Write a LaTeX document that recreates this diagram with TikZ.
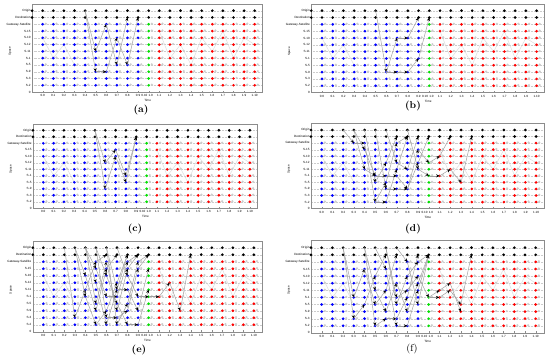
\documentclass[tikz,border=0pt]{standalone}
\usepackage{fontspec}
\newfontfamily\plotfont{Liberation Sans}
\usetikzlibrary{arrows.meta}
\definecolor{satblue}{RGB}{0,0,255}
\definecolor{satgreen}{RGB}{0,225,0}
\definecolor{satred}{RGB}{255,0,0}
\definecolor{routegray}{gray}{0.62}
\definecolor{ghostgray}{gray}{0.80}
\definecolor{gridgray}{gray}{0.80}
\tikzset{
  ticklab/.style={font=\plotfont\fontsize{2.6}{3}\selectfont,inner sep=0.4pt},
  panlab/.style={font=\fontsize{8.5}{10}\selectfont},
  rowgrid/.style={gridgray,line width=0.25pt,densely dotted},
  axisbox/.style={draw=black!45,line width=0.3pt},
  faint/.style={draw=black!14,line width=0.4pt},
  route/.style={draw=routegray,line width=0.4pt,-{Stealth[black,length=3pt,width=2.6pt]}},
}

\begin{document}
\begin{tikzpicture}[x=0.03cm,y=-0.03cm]
  \useasboundingbox (0,0) rectangle (550,364);
  % the six panels: name / first column x / column step / top row y / row step
  \foreach \pn/\cx/\cs/\oy/\rs in {a/42.7/10.6/10.7/6.78, b/322/10.73/10.7/6.82,
      c/43.3/10.33/130.3/6.5, d/321.7/10.72/130/6.55,
      e/43.3/10.53/247.7/7.0, f/321.7/10.7/247.7/7.1}{
    \pgfmathsetmacro\xl{\cx-\cs}
    \pgfmathsetmacro\xr{\cx+20.75*\cs}
    \pgfmathsetmacro\yt{\oy-\rs}
    \pgfmathsetmacro\yb{\oy+12*\rs}
    \foreach \r in {1,...,12}
      \draw[rowgrid] (\xl,{\oy+(12-\r)*\rs}) -- (\xr,{\oy+(12-\r)*\rs});
    \draw[axisbox] (\xl,\yt) rectangle (\xr,\yb);
    \foreach \c in {0,...,20}
      \foreach \r in {1,...,12}
        \coordinate (\pn-\c-\r) at ({\cx+\c*\cs},{\oy+(12-\r)*\rs});
    % faint background edges
    \foreach \c/\r/\cc/\rr in {0/8/1/5, 1/5/2/7, 2/7/3/4, 11/9/12/5, 12/5/13/7, 13/7/14/4,
        14/4/15/8, 15/8/16/6, 16/6/17/9, 17/9/18/5, 18/5/19/8, 19/8/20/7}
      \draw[faint] (\pn-\c-\r) -- (\pn-\cc-\rr);
    % satellites
    \foreach \c in {0,...,20}{
      \ifnum\c<10 \def\sc{satblue}\else\ifnum\c=10 \def\sc{satgreen}\else\def\sc{satred}\fi\fi
      \foreach \r in {1,...,10}{
        \fill[ghostgray] ([xshift=2.7pt,yshift=0.5pt]\pn-\c-\r) circle (1.05pt);
        \fill[\sc] (\pn-\c-\r) circle (1.25pt);
      }
      \fill[black] (\pn-\c-11) circle (1.25pt);
      \fill[black] (\pn-\c-12) circle (1.25pt);
    }
    \fill[black] (\xl,\oy) circle (1.25pt);
    \fill[black] (\xl,{\oy+\rs}) circle (1.25pt);
    % axes text
    \foreach \c in {0,...,20}
      \draw[axisbox] ({\cx+\c*\cs},\yb) -- ({\cx+\c*\cs},{\yb-1.5});
    \foreach \c in {0,...,9}
      \node[ticklab,anchor=north] at ({\cx+\c*\cs},{\yb+1.8}) {0.\c};
    \node[ticklab,anchor=north] at ({\cx+9.6*\cs},{\yb+1.8}) {0.10};
    \node[ticklab,anchor=north] at ({\cx+10.2*\cs},{\yb+1.8}) {1.0};
    \foreach \c in {1,...,10}
      \node[ticklab,anchor=north] at ({\cx+(10+\c)*\cs},{\yb+1.8}) {1.\c};
    \foreach \r/\t in {12/Origin, 11/Destination, 10/Gateway-Satellite, 9/S-15, 8/S-10,
        7/S-12, 6/S-11, 5/S-1, 4/S-5, 3/S-9, 2/S-3, 1/S-2, 0/0}
      \node[ticklab,anchor=east] at ({\xl-0.8},{\oy+(12-\r)*\rs}) {\t};
    \node[ticklab] at ({\cx+9.9*\cs},{\yb+8.6}) {Time};
    \node[ticklab,rotate=90] at ({\xl-22},{\oy+6*\rs}) {Space};
  }
  % routes (a)
  \foreach \c/\r/\cc/\rr in {4/12/5/6, 5/6/6/10, 6/10/7/4, 7/4/8/11,
      4/12/5/3, 5/3/6/3, 6/3/7/8, 7/8/8/4, 8/4/9/11}
    \draw[route] (a-\c-\r) -- (a-\cc-\rr);
  % routes (b)
  \foreach \c/\r/\cc/\rr in {5/12/6/3, 6/3/7/3, 7/3/8/3, 8/3/9/5, 9/5/10/11,
      6/3/7/8, 7/8/8/8, 8/8/9/11}
    \draw[route] (b-\c-\r) -- (b-\cc-\rr);
  % routes (c)
  \foreach \c/\r/\cc/\rr in {5/12/6/3, 6/3/7/8, 7/8/8/4, 8/4/9/11,
      5/12/6/7, 6/7/7/9, 7/9/8/5, 8/5/9/11}
    \draw[route] (c-\c-\r) -- (c-\cc-\rr);
  % routes (d)
  \foreach \c/\r/\cc/\rr in {2/12/3/10, 3/10/4/10, 4/10/5/1, 5/1/6/1, 6/1/7/6, 7/6/8/11,
      3/12/4/9, 4/9/5/5, 5/5/6/5, 6/5/7/5, 7/5/8/3, 8/3/9/7, 9/7/10/11,
      4/12/5/4, 5/4/6/7, 6/7/7/11, 3/12/4/6, 4/6/5/5,
      5/12/6/3, 6/3/7/3, 7/3/8/3, 8/3/9/9, 9/9/10/7, 10/7/11/8, 11/8/12/11,
      6/12/7/7, 7/7/8/6, 8/6/9/11, 5/1/6/4, 6/4/7/10, 7/10/8/11,
      8/12/9/6, 9/6/10/5, 10/5/11/5, 11/5/12/6, 12/6/13/4, 13/4/14/11}
    \draw[route] (d-\c-\r) -- (d-\cc-\rr);
  % routes (e)
  \foreach \c/\r/\cc/\rr in {2/12/3/2, 3/2/4/6, 4/6/5/10, 5/10/6/11,
      3/12/4/8, 4/8/5/3, 5/3/6/9, 6/9/7/11,
      4/12/5/7, 5/7/6/1, 6/1/7/6, 7/6/8/11,
      4/12/5/9, 5/9/6/5, 6/5/7/5, 7/5/8/10, 8/10/9/11,
      5/12/6/2, 6/2/7/2, 7/2/8/3, 8/3/9/9, 9/9/10/11,
      5/12/6/8, 6/8/7/4, 7/4/8/1, 8/1/9/1, 9/1/10/6,
      6/12/7/6, 7/6/8/6, 8/6/9/3, 9/3/10/9,
      4/12/5/4, 5/4/6/10, 6/10/7/3, 7/3/8/9, 8/9/9/11,
      3/12/4/5, 4/5/5/1, 5/1/6/3, 6/3/7/7, 7/7/8/11,
      6/12/7/1, 7/1/8/4, 8/4/9/10, 9/10/10/11,
      7/12/8/8, 8/8/9/5, 9/5/10/5, 10/5/11/5, 11/5/12/7, 12/7/13/3, 13/3/14/11}
    \draw[route] (e-\c-\r) -- (e-\cc-\rr);
  % routes (f)
  \foreach \c/\r/\cc/\rr in {2/12/3/2, 3/2/4/4, 4/4/5/8, 5/8/6/11,
      2/12/3/5, 3/5/4/9, 4/9/5/4, 5/4/6/6, 6/6/7/11,
      4/12/5/1, 5/1/6/2, 6/2/7/2, 7/2/8/5, 8/5/9/11,
      4/12/5/6, 5/6/6/3, 6/3/7/7, 7/7/8/3, 8/3/9/7, 9/7/10/11,
      5/12/6/9, 6/9/7/1, 7/1/8/1, 8/1/9/6, 9/6/10/11,
      6/12/7/4, 7/4/8/8, 8/8/9/10, 9/10/10/11,
      7/12/8/10, 8/10/9/4, 9/4/10/11,
      6/12/7/5, 7/5/8/6, 8/6/9/8, 9/8/10/5,
      10/5/11/5, 11/5/12/6, 12/6/13/4, 13/4/14/11, 10/5/11/6, 11/6/12/7, 12/7/13/3}
    \draw[route] (f-\c-\r) -- (f-\cc-\rr);
  % panel captions
  \node[panlab] at (141,110) {\textbf{(a)}};
  \node[panlab] at (413,106) {\textbf{(b)}};
  \node[panlab] at (135,229) {\textbf{(c)}};
  \node[panlab] at (413,229) {\textbf{(d)}};
  \node[panlab] at (139,350) {\textbf{(e)}};
  \node[panlab] at (412,349) {(f)};
\end{tikzpicture}
\end{document}
